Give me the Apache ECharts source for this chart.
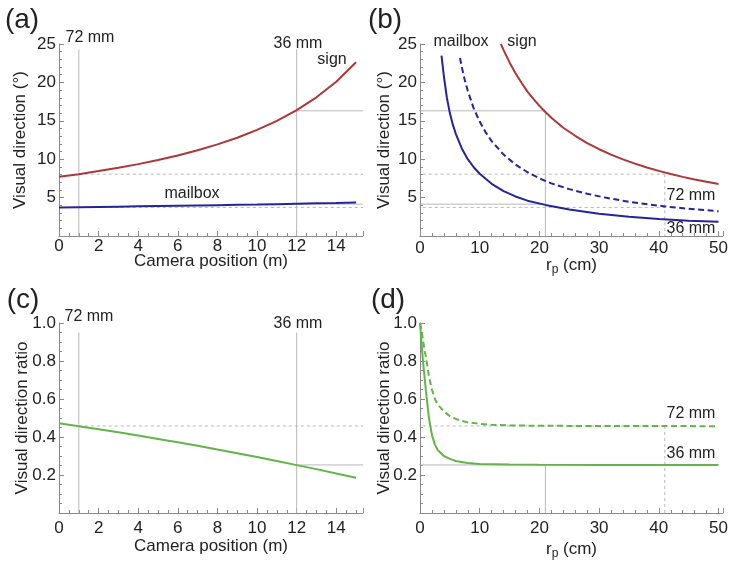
<!DOCTYPE html>
<html><head><meta charset="utf-8">
<script src="https://cdn.jsdelivr.net/npm/echarts@6/dist/echarts.min.js"></script>
<style>html,body{margin:0;padding:0;background:#fff}#c{width:734px;height:568px}</style>
</head><body><div id="c"></div>
<script>
// ---- Panels (a) and (c): against camera position (m)
const camPos = [0,1,2,3,4,5,6,7,8,9,10,11,12,13,14,15];
const signDeg = [7.70,8.05,8.45,8.88,9.36,9.89,10.49,11.16,11.93,12.80,13.82,15.00,16.39,18.06,20.09,22.62];
const mailboxDeg = [3.70,3.74,3.78,3.82,3.86,3.90,3.94,3.98,4.02,4.06,4.10,4.15,4.20,4.25,4.30,4.36];
const ratioCam = [0.472,0.457,0.441,0.425,0.408,0.390,0.372,0.354,0.334,0.315,0.295,0.274,0.252,0.231,0.208,0.185];
// ---- Panel (b): against r_p (cm)
const rpSign = [13.55,14,15,16,17,18,19,20,21,22,24,26,28,30,32,34,36,38,40,42,44,46,48,50];
const signVsRp = [25.0,24.2,22.6,21.2,19.95,18.8,17.85,16.95,16.15,15.4,14.1,13.05,12.1,11.3,10.6,9.97,9.42,8.92,8.48,8.07,7.7,7.37,7.06,6.78];
const rpMail36 = [3.6,4,4.5,5,5.5,6,7,8,9,10,12,14,16,18,21,25,30,35,40,45,50];
const mail36VsRp = [23.5,20.8,18.0,16.0,14.5,13.3,11.4,10.0,8.95,8.1,6.8,5.85,5.15,4.6,4.05,3.45,2.9,2.52,2.22,2.0,1.85];
const rpMail72 = [6.7,7,7.5,8,9,10,11,12,14,16,18,20,22,25,28,31,35,41,45,50];
const mail72VsRp = [23.2,22.0,20.3,18.9,16.6,14.9,13.5,12.35,10.6,9.3,8.3,7.5,6.85,6.1,5.5,5.0,4.45,3.85,3.55,3.22];
// ---- Panel (d): ratio against r_p (cm)
const rpRatio36 = [0,0.25,0.5,0.75,1,1.25,1.5,2,2.5,3,4,5,6,8,10,15,20,30,50];
const ratio36VsRp = [1.0,0.90,0.80,0.72,0.64,0.57,0.50,0.41,0.36,0.33,0.30,0.285,0.274,0.263,0.258,0.255,0.254,0.253,0.253];
const rpRatio72 = [0,0.25,0.5,0.75,1,1.5,2,2.5,3,4,5,6,7,8,10,12,15,20,30,50];
const ratio72VsRp = [1.0,0.96,0.91,0.86,0.82,0.72,0.65,0.60,0.57,0.535,0.51,0.495,0.485,0.477,0.469,0.464,0.461,0.459,0.458,0.457];
// ---- Reference (guide) values
const cam72 = 1, cam36 = 12, rp36 = 21, rp72 = 41;
const sign36 = 16.3, sign72 = 8.05, mail36 = 4.15, mail72 = 3.72;
const ratio36 = 0.253, ratio72 = 0.458;
const camMax = 15.35, rpMax = 50.75, rpGapStart = -9.6;
const degMax = 25, degGuideTop = 24.3, ratioMax = 1.0, ratioGuideTop = 0.95;

const FONT = "'Liberation Sans', Arial, sans-serif";
const TXT = '#222';
const AX = '#8a8a8a';
const RED = '#ad3636', BLUE = '#25259a', GREEN = '#62b548', GUIDE = '#b8b8b8';

const pairs = (xs, ys) => xs.map((x, i) => [x, ys[i]]);

function xAxisCfg(gi, max, interval, minorSplit, name, gap, margin, rich) {
  return {
    type: 'value', gridIndex: gi, min: 0, max: max, interval: interval,
    name: name, nameLocation: 'middle', nameGap: gap, nameMoveOverlap: false,
    nameTextStyle: { fontFamily: FONT, fontSize: 17, color: TXT, rich: rich },
    axisLine: { show: true, onZero: false, lineStyle: { color: AX, width: 1 } },
    axisTick: { show: true, inside: true, length: 5, lineStyle: { color: AX } },
    minorTick: { show: true, splitNumber: minorSplit, length: 3, lineStyle: { color: AX } },
    splitLine: { show: false }, minorSplitLine: { show: false },
    axisLabel: { fontFamily: FONT, fontSize: 17, color: TXT, margin: margin, showMaxLabel: false,
      formatter: v => (Math.abs(v / interval - Math.round(v / interval)) < 1e-6 ? String(Math.round(v)) : '') }
  };
}
function yAxisCfg(gi, max, interval, minorSplit, name, gap, dec) {
  return {
    type: 'value', gridIndex: gi, min: 0, max: max, interval: interval,
    name: name, nameLocation: 'middle', nameGap: gap, nameMoveOverlap: false,
    nameTextStyle: { fontFamily: FONT, fontSize: 17, color: TXT },
    axisLine: { show: true, onZero: false, lineStyle: { color: AX, width: 1 } },
    axisTick: { show: true, inside: true, length: 5, lineStyle: { color: AX } },
    minorTick: { show: true, splitNumber: minorSplit, length: 3, lineStyle: { color: AX } },
    splitLine: { show: false },
    axisLabel: { fontFamily: FONT, fontSize: 17, color: TXT, margin: 3, showMinLabel: false,
      formatter: v => (v === 0 ? '' : v.toFixed(dec)) }
  };
}
function guide(gi, pts, dashed) {
  return { type: 'line', xAxisIndex: gi, yAxisIndex: gi, data: pts, symbol: 'none', silent: true,
    clip: false, z: 1, lineStyle: { color: GUIDE, width: 1, type: dashed ? [3, 3] : 'solid' } };
}
function curve(gi, pts, color, dashed) {
  return { type: 'line', xAxisIndex: gi, yAxisIndex: gi, data: pts, symbol: 'none', silent: true,
    smooth: false, z: 3,
    lineStyle: { color: color, width: 2, type: dashed ? [6, 3.5] : 'solid' } };
}
const rpRich = { s: { fontFamily: FONT, fontSize: 12, color: TXT, padding: [9, 0, 0, 0] } };

const series = [
  // (a) guides
  guide(0, [[cam72, 0], [cam72, degGuideTop]]),
  guide(0, [[cam36, 0], [cam36, degGuideTop]]),
  guide(0, [[cam36, sign36], [camMax, sign36]]),
  guide(0, [[cam36, mail36], [camMax, mail36]]),
  guide(0, [[cam72, sign72], [camMax, sign72]], true),
  guide(0, [[cam72, mail72], [camMax, mail72]], true),
  // (b) guides
  guide(1, [[rpGapStart, sign36], [rp36, sign36], [rp36, 0]]),
  guide(1, [[rpGapStart, mail36], [rp36, mail36]]),
  guide(1, [[rpGapStart, sign72], [rp72, sign72]], true),
  guide(1, [[rpGapStart, mail72], [rp72, mail72]], true),
  guide(1, [[rp72, sign72], [rp72, 0]], true),
  // (c) guides
  guide(2, [[cam72, 0], [cam72, ratioGuideTop]]),
  guide(2, [[cam36, 0], [cam36, ratioGuideTop]]),
  guide(2, [[cam36, ratio36], [camMax, ratio36]]),
  guide(2, [[cam72, ratio72], [camMax, ratio72]], true),
  // (d) guides
  guide(3, [[rpGapStart, ratio36], [rp36, ratio36], [rp36, 0]]),
  guide(3, [[rpGapStart, ratio72], [rp72, ratio72]], true),
  guide(3, [[rp72, ratio72], [rp72, 0]], true),
  // curves
  curve(0, pairs(camPos, signDeg), RED),
  curve(0, pairs(camPos, mailboxDeg), BLUE),
  curve(1, pairs(rpSign, signVsRp), RED),
  curve(1, pairs(rpMail36, mail36VsRp), BLUE),
  curve(1, pairs(rpMail72, mail72VsRp), BLUE, true),
  curve(2, pairs(camPos, ratioCam), GREEN),
  curve(3, pairs(rpRatio36, ratio36VsRp), GREEN),
  curve(3, pairs(rpRatio72, ratio72VsRp), GREEN, true)
];

function t(text, x, y, size) {
  return { type: 'text', x: x, y: y, silent: true,
    style: { text: text, fontFamily: FONT, fontSize: size || 16, fill: TXT, align: 'center', verticalAlign: 'middle' } };
}

const option = {
  animation: false,
  backgroundColor: '#fff',
  grid: [
    { left: 59, top: 44, width: 304, height: 192, outerBoundsMode: 'none', containLabel: false },
    { left: 420, top: 44, width: 303, height: 192, outerBoundsMode: 'none', containLabel: false },
    { left: 59, top: 323, width: 304, height: 190, outerBoundsMode: 'none', containLabel: false },
    { left: 420, top: 323, width: 303, height: 190, outerBoundsMode: 'none', containLabel: false }
  ],
  xAxis: [
    xAxisCfg(0, camMax, 2, 4, 'Camera position (m)', 17, 2),
    xAxisCfg(1, rpMax, 10, 5, 'r{s|p} (cm)', 19, 4, rpRich),
    xAxisCfg(2, camMax, 2, 4, 'Camera position (m)', 25, 7),
    xAxisCfg(3, rpMax, 10, 5, 'r{s|p} (cm)', 26, 7, rpRich)
  ],
  yAxis: [
    yAxisCfg(0, degMax, 5, 5, 'Visual direction (°)', 30, 0),
    yAxisCfg(1, degMax, 5, 5, 'Visual direction (°)', 27, 0),
    yAxisCfg(2, ratioMax, 0.2, 4, 'Visual direction ratio', 28, 1),
    yAxisCfg(3, ratioMax, 0.2, 4, 'Visual direction ratio', 27, 1)
  ],
  series: series,
  graphic: [
    t('(a)', 22, 20, 28), t('(b)', 385, 20, 28), t('(c)', 23, 300, 28), t('(d)', 388, 300, 28),
    t('72 mm', 90, 38), t('36 mm', 298, 44), t('sign', 332, 60), t('mailbox', 192, 194),
    t('mailbox', 461, 42), t('sign', 522, 42), t('72 mm', 691, 196), t('36 mm', 691, 229),
    t('72 mm', 89, 317), t('36 mm', 298, 324), t('72 mm', 691, 414), t('36 mm', 691, 454)
  ]
};
const chart = echarts.init(document.getElementById('c'), null, { renderer: 'canvas' });
chart.setOption(option);
</script></body></html>
